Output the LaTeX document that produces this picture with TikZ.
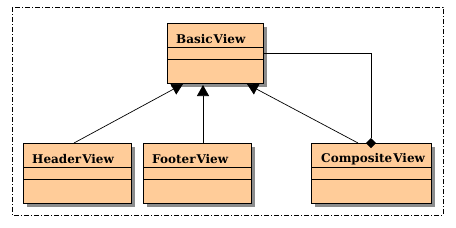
\documentclass[tikz,border=0pt]{standalone}
\usepackage{fontspec}
\setmainfont{DejaVu Serif}
\usetikzlibrary{arrows.meta,shadows,calc}
\definecolor{peach}{HTML}{FFCC99}
\tikzset{
  x=1pt,y=-1pt,
  classbox/.style={draw=black,line width=0.8pt,fill=peach,anchor=north west,inner sep=0pt,
    drop shadow={shadow xshift=4pt,shadow yshift=-4pt,fill=gray!90,opacity=1}},
  classname/.style={anchor=west,inner sep=0pt,font=\fontsize{12}{12}\selectfont\bfseries},
  divider/.style={line width=0.8pt},
  conn/.style={line width=0.7pt},
  inherit/.style={conn,-{Triangle[length=11pt,width=12pt,fill=black]}},
  aggr/.style={conn,{Diamond[length=10pt,width=10pt,fill=black]}-},
}
\begin{document}
\begin{tikzpicture}
\useasboundingbox (0,0) rectangle (456,228);
\draw[line width=0.7pt,dash pattern=on 5pt off 2pt on 1pt off 2pt] (12,7) rectangle (443,215);
% boxes
\node[classbox,minimum width=96pt,minimum height=60pt] (basic) at (167,23) {};
\node[classbox,minimum width=108pt,minimum height=60pt] (header) at (23,143) {};
\node[classbox,minimum width=108pt,minimum height=60pt] (footer) at (143,143) {};
\node[classbox,minimum width=120pt,minimum height=60pt] (composite) at (311,143) {};
% names
\node[classname] (basicname) at (176,39.5) {Basic\hspace{1pt}View};
\node[classname] (headername) at (32,159.5) {Header\hspace{1pt}View};
\node[classname] (footername) at (152,159.5) {Footer\hspace{1pt}View};
\node[classname] (compositename) at (321,159.5) {Composite\hspace{1pt}View};
% dividers
\foreach \n in {basic,header,footer,composite}{
  \draw[divider] ($(\n.north west)+(0,24.3)$) -- ($(\n.north east)+(0,24.3)$);
  \draw[divider] ($(\n.north west)+(0,36.3)$) -- ($(\n.north east)+(0,36.3)$);
}
% connector endpoints
\coordinate (tipH) at (183,84);
\coordinate (tipF) at (203,85);
\coordinate (tipC) at (247,84);
\coordinate (startH) at (74,143);
\coordinate (startC) at (358,143);
\coordinate (bend) at (371,53);
\coordinate (dia) at (371,148);
\draw[inherit] (startH) -- (tipH);
\draw[inherit] (footer.north -| tipF) -- (tipF);
\draw[inherit] (startC) -- (tipC);
\draw[aggr] (dia) -- (bend) -- (basic.east |- bend);
\end{tikzpicture}
\end{document}
